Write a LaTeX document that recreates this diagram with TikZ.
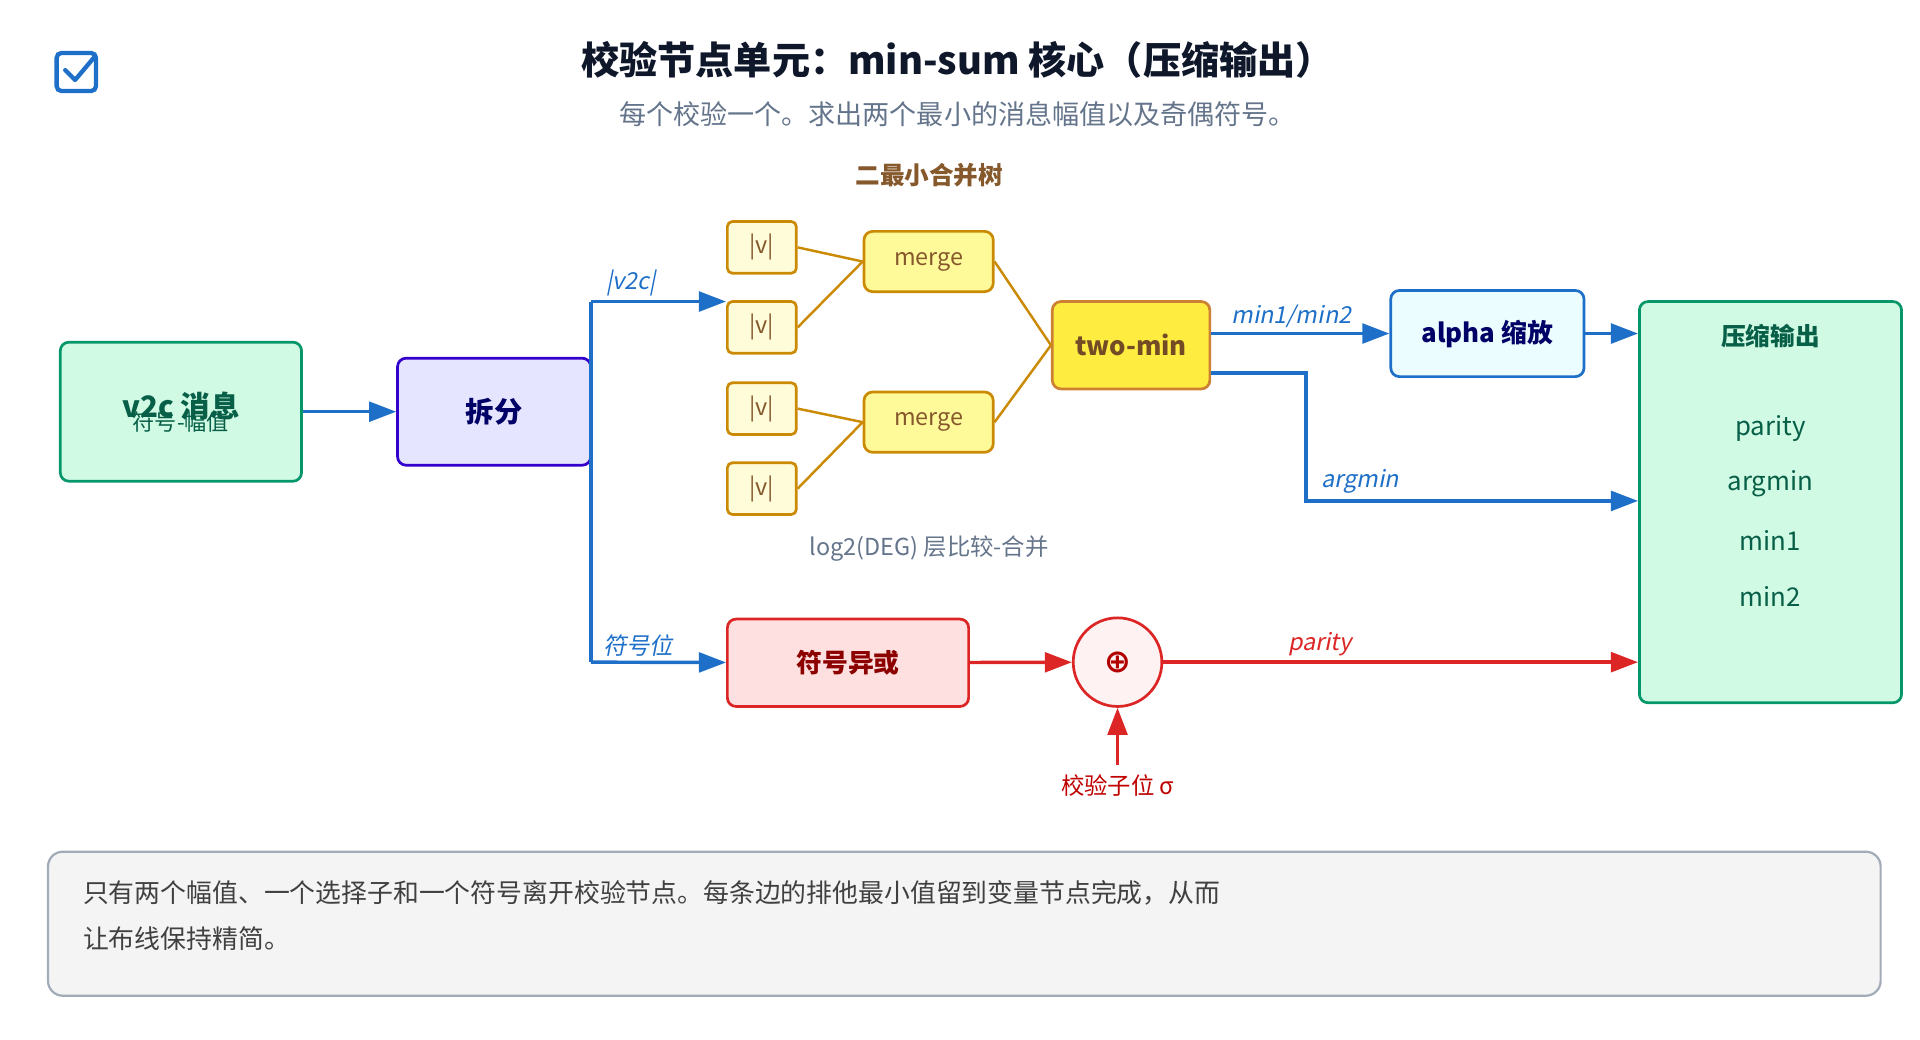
\documentclass[tikz,border=0pt]{standalone}
\usepackage{fontspec}
\setmainfont{Noto Sans CJK SC}
\newfontfamily\slfont{Noto Sans CJK SC}[FakeSlant=0.2]
\newfontfamily\symfont{DejaVu Sans}
\usetikzlibrary{arrows.meta,positioning}
\definecolor{bluel}{HTML}{1D6FC7}
\definecolor{greenb}{HTML}{059669}
\definecolor{greenf}{HTML}{D1FAE5}
\definecolor{greent}{HTML}{065F46}
\definecolor{goldb}{HTML}{CA8A04}
\definecolor{redl}{HTML}{DC2626}
\definecolor{grayt}{HTML}{64748B}
\definecolor{titlec}{HTML}{0F172A}
\tikzset{
  box/.style={draw, rounded corners=7pt, line width=2.2pt, align=center, inner sep=0pt},
  arr/.style={line width=2.8pt, -{Triangle[length=22pt,width=16pt]}},
  lbl/.style={font=\fontsize{19}{21}\selectfont\slfont}
}
\begin{document}
\begin{tikzpicture}[x=1pt,y=-1pt]
        \useasboundingbox (0,0) rectangle (1560,845);
        % Title
        \draw[bluel, line width=3.5pt, rounded corners=4pt] (46,43) rectangle (78,74);
        \draw[bluel, line width=3.5pt, line cap=round, line join=round] (53,57) -- (61,65) -- (77,46);
        \node[font=\fontsize{31}{34}\selectfont\bfseries, text=titlec] (title) at (778,49) {校验节点单元：min-sum 核心（压缩输出）};
        \node[font=\fontsize{22}{24}\selectfont, text=grayt] (sub) at (778,93) {每个校验一个。求出两个最小的消息幅值以及奇偶符号。};
        \node[font=\fontsize{20}{22}\selectfont\bfseries, text=brown!70!black] (treet) at (755,142) {二最小合并树};
        % Define nodes
        \node[box, draw=greenb, fill=greenf, text=greent, minimum width=196pt, minimum height=113pt] (v2c) at (147,334.5) {{\fontsize{24}{26}\selectfont\bfseries v2c 消息}\\[-8pt]{\fontsize{18}{20}\selectfont 符号-幅值}};
        \node[box, draw=blue!60!violet, fill=blue!10, text=blue!40!black, minimum width=157pt, minimum height=87pt, font=\fontsize{23}{25}\selectfont\bfseries] (split) at (401.5,334.5) {拆分};
        \foreach \i/\y in {1/201,2/266,3/332,4/397}
            \node[box, rounded corners=4pt, draw=goldb, fill=yellow!15, text=brown!70!black, minimum width=56pt, minimum height=42pt, font=\fontsize{19}{21}\selectfont] (V\i) at (619,\y) {|v|};
        \node[box, draw=goldb, fill=orange!10!yellow!40, text=brown!70!black, minimum width=105pt, minimum height=49pt, font=\fontsize{19}{21}\selectfont] (M1) at (754.5,212.5) {merge};
        \node[box, draw=goldb, fill=orange!10!yellow!40, text=brown!70!black, minimum width=105pt, minimum height=49pt, font=\fontsize{19}{21}\selectfont] (M2) at (754.5,343) {merge};
        \node[box, draw=brown!80!orange, fill=orange!20!yellow!75, text=brown!60!black, minimum width=128pt, minimum height=71pt, font=\fontsize{21}{23}\selectfont\bfseries] (TM) at (919,280.5) {two-min};
        \node[box, draw=bluel, fill=blue!8!cyan!8, text=blue!40!black, minimum width=157pt, minimum height=70pt, font=\fontsize{21}{23}\selectfont\bfseries] (AL) at (1208.5,271) {alpha 缩放};
        \node[box, draw=greenb, fill=greenf, minimum width=213pt, minimum height=326pt] (OUT) at (1438.5,408) {};
        \node[font=\fontsize{20}{22}\selectfont\bfseries, text=greent] (OT) at (1438.5,273) {压缩输出};
        \node[font=\fontsize{21}{23}\selectfont, text=greent] (O1) at (1438.5,348) {parity};
        \node[font=\fontsize{21}{23}\selectfont, text=greent] (O2) at (1438.5,393) {argmin};
        \node[font=\fontsize{21}{23}\selectfont, text=greent] (O3) at (1438.5,439) {min1};
        \node[font=\fontsize{21}{23}\selectfont, text=greent] (O4) at (1438.5,485) {min2};
        \node[font=\fontsize{19}{21}\selectfont, text=grayt] (logt) at (755,446) {log2(DEG) 层比较-合并};
        \node[box, draw=redl, fill=red!12, text=red!55!black, minimum width=196pt, minimum height=71pt, font=\fontsize{21}{23}\selectfont\bfseries] (XS) at (689,538.5) {符号异或};
        \node[circle, draw=redl, line width=2.2pt, fill=red!5, minimum size=72pt, inner sep=0pt, text=red!70!black, font=\fontsize{26}{26}\selectfont\symfont\bfseries] (XOR) at (908,538) {⊕};
        \node[font=\fontsize{19}{21}\selectfont, text=red!75!black] (syn) at (908,638) {校验子位 σ};
        \node[draw=grayt!60, fill=blue!3!gray!8, line width=1.8pt, rounded corners=12pt, minimum width=1489pt, minimum height=117pt] (note) at (783.5,750.5) {};
        \node[anchor=north west, align=left, text=black!75, font=\fontsize{21}{37}\selectfont] (notet) at (64,712) {只有两个幅值、一个选择子和一个符号离开校验节点。每条边的排他最小值留到变量节点完成，从而\\让布线保持精简。};
        % Coordinates
        \coordinate (S1) at (480,245);
        \coordinate (S2) at (480,538);
        \coordinate (A1) at (1061,303);
        \coordinate (A2) at (1061,407);
        % Draw edges
        \draw[arr, bluel] (v2c) -- (split);
        \draw[line width=2.8pt, bluel] (S1) -- (S2);
        \draw[arr, bluel] (S1) -- (V2.north west |- S1) node[lbl, pos=0.3, above, text=bluel] {|v2c|};
        \draw[arr, bluel] (S2) -- (XS) node[lbl, pos=0.35, above, text=bluel] {符号位};
        \foreach \i/\m in {1/M1,2/M1,3/M2,4/M2}
            \draw[goldb, line width=2pt] (V\i.east) -- (\m.west);
        \draw[goldb, line width=2pt] (M1.east) -- (TM.west);
        \draw[goldb, line width=2pt] (M2.east) -- (TM.west);
        \draw[arr, bluel] (TM.east |- AL) -- (AL) node[lbl, pos=0.45, above, text=bluel] {min1/min2};
        \draw[arr, bluel] (AL) -- (OUT.west |- AL);
        \draw[arr, bluel] (TM.east |- A1) -- (A1) -- (A2) -- (OUT.west |- A2);
        \node[lbl, text=bluel] (argl) at (1105,391) {argmin};
        \draw[arr, redl] (XS) -- (XOR);
        \draw[arr, redl] (XOR) -- (OUT.west |- XOR) node[lbl, pos=0.33, above, text=redl] {parity};
        \draw[arr, redl] (syn.north) ++(0,-4) -- (XOR.south);
    \end{tikzpicture}
\end{document}
